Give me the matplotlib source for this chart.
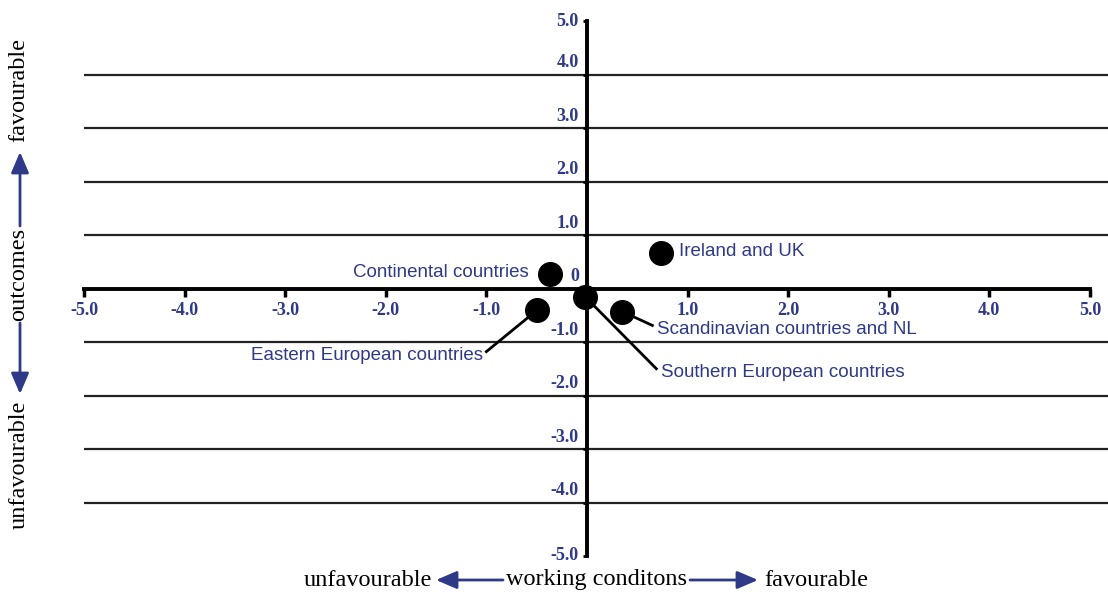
import matplotlib.pyplot as plt

# cluster positions (working conditions, outcomes)
groups = ["Ireland and UK", "Continental countries", "Eastern European countries",
          "Southern European countries", "Scandinavian countries and NL"]
x_vals = [0.74, -0.37, -0.50, -0.02, 0.35]
y_vals = [0.67, 0.28, -0.41, -0.15, -0.43]

x_ticks = [-5, -4, -3, -2, -1, 1, 2, 3, 4, 5]
y_ticks = [5, 4, 3, 2, 1, 0, -1, -2, -3, -4, -5]
grid_rows = [4, 3, 2, 1, -1, -2, -3, -4]

BLUE = "#2e3a87"
W, H = 1108, 595

fig = plt.figure(figsize=(W / 100, H / 100), dpi=100)
ax = fig.add_axes([84 / W, 1 - 556 / H, (W - 84) / W, 535 / H])
ax.set_xlim(-5, 5.18)
ax.set_ylim(-5, 5)

for r in grid_rows:
    ax.axhline(r, color="#222222", lw=1.6, zorder=1)

for s in ["top", "right"]:
    ax.spines[s].set_visible(False)
ax.spines["left"].set_position(("data", 0))
ax.spines["bottom"].set_position(("data", 0))
ax.spines["left"].set_bounds(-5, 5)
ax.spines["bottom"].set_bounds(-5, 5)
for s in ["left", "bottom"]:
    ax.spines[s].set_linewidth(2.8)
    ax.spines[s].set_zorder(2)

ax.set_xticks(x_ticks)
ax.set_xticklabels([f"{v:.1f}" for v in x_ticks], fontfamily="Liberation Serif",
                   fontweight="bold", fontsize=13, color=BLUE)
ax.tick_params(axis="x", direction="out", length=6, width=2.5, pad=4)
ax.set_yticks(y_ticks)
ax.set_yticklabels([])
ax.tick_params(axis="y", direction="out", length=3, width=2)

for v in y_ticks:
    lab = "0" if v == 0 else f"{v:.1f}"
    va = "center" if abs(v) == 5 else "bottom"
    ax.text(-0.08, v + (0.0 if abs(v) == 5 else 0.06), lab, ha="right", va=va,
            fontfamily="Liberation Serif", fontweight="bold", fontsize=13, color=BLUE)

ax.plot(x_vals, y_vals, "o", color="black", markersize=17, zorder=4, clip_on=False)

# group labels and leader lines
lab_pos = [(0.92, 0.69, "left"), (-0.58, 0.30, "right"), (-1.03, -1.25, "right"),
           (0.74, -1.57, "left"), (0.70, -0.77, "left")]
leaders = [None, None, (-1.0, -1.18), (0.69, -1.5), (0.65, -0.69)]
for g, x, y, (tx, ty, ha), ld in zip(groups, x_vals, y_vals, lab_pos, leaders):
    ax.text(tx, ty, g, ha=ha, va="center", fontfamily="Liberation Sans",
            fontsize=13.5, color=BLUE, zorder=5)
    if ld is not None:
        ax.plot([x, ld[0]], [y, ld[1]], color="black", lw=2, zorder=3)

# axis captions with arrows
serif = dict(fontfamily="Liberation Serif", fontsize=17.5, color="black")
arrow = dict(arrowstyle="-|>,head_length=0.7,head_width=0.3", color=BLUE, lw=2,
             mutation_scale=18, shrinkA=0, shrinkB=0)
yb = H - 580
fig.text(368 / W, yb / H, "unfavourable", ha="center", va="center", **serif)
fig.text(596 / W, yb / H, "working conditons", ha="center", va="center", **serif)
fig.text(816 / W, yb / H, "favourable", ha="center", va="center", **serif)
ax.annotate("", xy=(436, yb), xytext=(503, yb), xycoords="figure pixels",
            textcoords="figure pixels", arrowprops=arrow, annotation_clip=False)
ax.annotate("", xy=(758, yb), xytext=(690, yb), xycoords="figure pixels",
            textcoords="figure pixels", arrowprops=arrow, annotation_clip=False)

xl = 19 / W
fig.text(xl, 1 - 90 / H, "favourable", rotation=90, ha="center", va="center", **serif)
fig.text(xl, 1 - 274 / H, "outcomes", rotation=90, ha="center", va="center", **serif)
fig.text(xl, 1 - 465 / H, "unfavourable", rotation=90, ha="center", va="center", **serif)
ax.annotate("", xy=(20, H - 152), xytext=(20, H - 226), xycoords="figure pixels",
            textcoords="figure pixels", arrowprops=arrow, annotation_clip=False)
ax.annotate("", xy=(20, H - 394), xytext=(20, H - 323), xycoords="figure pixels",
            textcoords="figure pixels", arrowprops=arrow, annotation_clip=False)

fig.savefig("out.png", dpi=100)
